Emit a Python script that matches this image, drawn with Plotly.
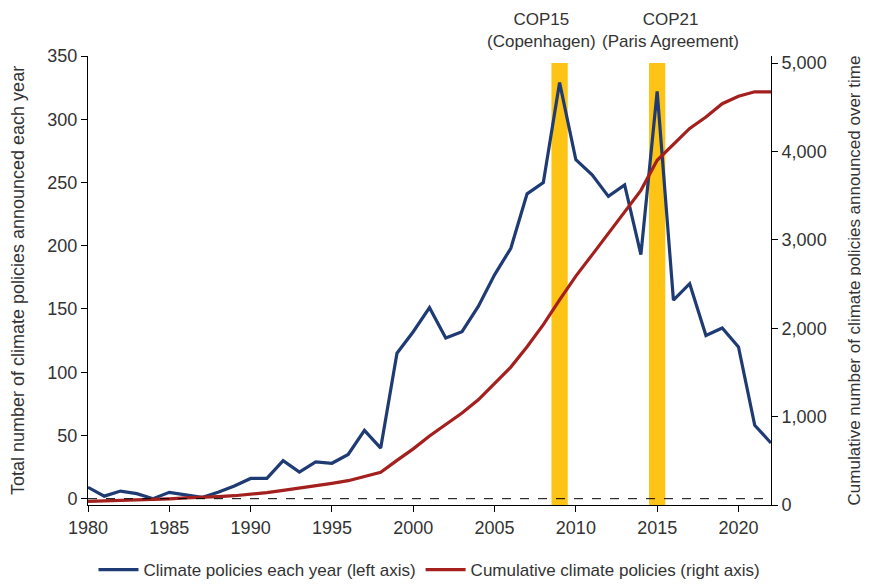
import plotly.graph_objects as go

years = list(range(1980, 2023))

# climate policies announced each year (left axis)
policies_per_year = [9, 2, 6, 4, 0, 5, 3, 1, 5, 10,
                     16, 16, 30, 21, 29, 28, 35, 54, 40, 115,
                     132, 151, 127, 132, 152, 177, 198, 241, 250, 329,
                     268, 256, 239, 248, 193, 322, 157, 170, 129, 135,
                     120, 58, 44]

# cumulative climate policies (right axis)
policies_cumulative = [40, 45, 50, 55, 60, 70, 80, 85, 95, 105,
                       120, 140, 165, 190, 215, 245, 275, 325, 370, 505,
                       635, 780, 910, 1040, 1190, 1370, 1560, 1790, 2040, 2320,
                       2590, 2830, 3070, 3310, 3560, 3900, 4080, 4260, 4390, 4540,
                       4625, 4675, 4675]

cop_years = [2009, 2015]
cop_labels = ["COP15<br>(Copenhagen)", "COP21<br>(Paris Agreement)"]
cop_shift = [-18, 13]

BLUE = "#1f3b74"
RED = "#a3201f"
GOLD = "#fdc315"
TXT = "#333333"
FONT = "Liberation Sans, Arial, sans-serif"

fig = go.Figure()

fig.add_trace(go.Scatter(x=years, y=policies_per_year, mode="lines",
                         name="Climate policies each year (left axis)",
                         line=dict(color=BLUE, width=3.2)))
fig.add_trace(go.Scatter(x=years, y=policies_cumulative, mode="lines",
                         name="Cumulative climate policies (right axis)",
                         line=dict(color=RED, width=3.2), yaxis="y2"))

# COP bands
for yr, lab, sh in zip(cop_years, cop_labels, cop_shift):
    fig.add_shape(type="rect", xref="x", yref="y2", x0=yr - 0.5, x1=yr + 0.5,
                  y0=0, y1=5000, fillcolor=GOLD, line_width=0, layer="below")
    fig.add_annotation(x=yr, xref="x", y=1.0, yref="paper", yanchor="bottom",
                       text=lab, showarrow=False, xshift=sh, yshift=3,
                       font=dict(size=17, color=TXT, family=FONT))

# dashed zero line
fig.add_shape(type="line", xref="paper", yref="y", x0=0, x1=1, y0=0, y1=0,
              line=dict(color="black", width=1, dash="dash"), layer="above")

# page body has an 8px margin, so the figure is 8px smaller than the window
fig.update_layout(
    width=861, height=576,
    margin=dict(l=80, r=98, t=48, b=79, autoexpand=False),
    plot_bgcolor="white", paper_bgcolor="white",
    font=dict(family=FONT, size=18, color=TXT),
    showlegend=True,
    legend=dict(orientation="h", x=0.5, xanchor="center", y=-0.145, yanchor="middle",
                font=dict(size=17), itemwidth=40),
    xaxis=dict(range=[1980, 2022], tickvals=list(range(1980, 2025, 5)),
               showgrid=False, zeroline=False, showline=True, linecolor="black",
               linewidth=1, ticks="outside", ticklen=6, tickcolor="black",
               automargin=False),
    yaxis=dict(range=[-5, 350], tickvals=list(range(0, 351, 50)),
               title=dict(text="Total number of climate policies announced each year",
                          standoff=24, font=dict(size=18)),
               showgrid=False, zeroline=False, showline=True, linecolor="black",
               linewidth=1, ticks="outside", ticklen=6, tickcolor="black",
               automargin=False),
    yaxis2=dict(range=[0, 5080], tickvals=list(range(0, 5001, 1000)),
                tickformat=",", overlaying="y", side="right",
                title=dict(text="Cumulative number of climate policies announced over time",
                           standoff=22, font=dict(size=17)),
                showgrid=False, zeroline=False, showline=True, linecolor="black",
                linewidth=1, ticks="outside", ticklen=6, tickcolor="black",
                automargin=False),
)

fig.write_html("out.html")
